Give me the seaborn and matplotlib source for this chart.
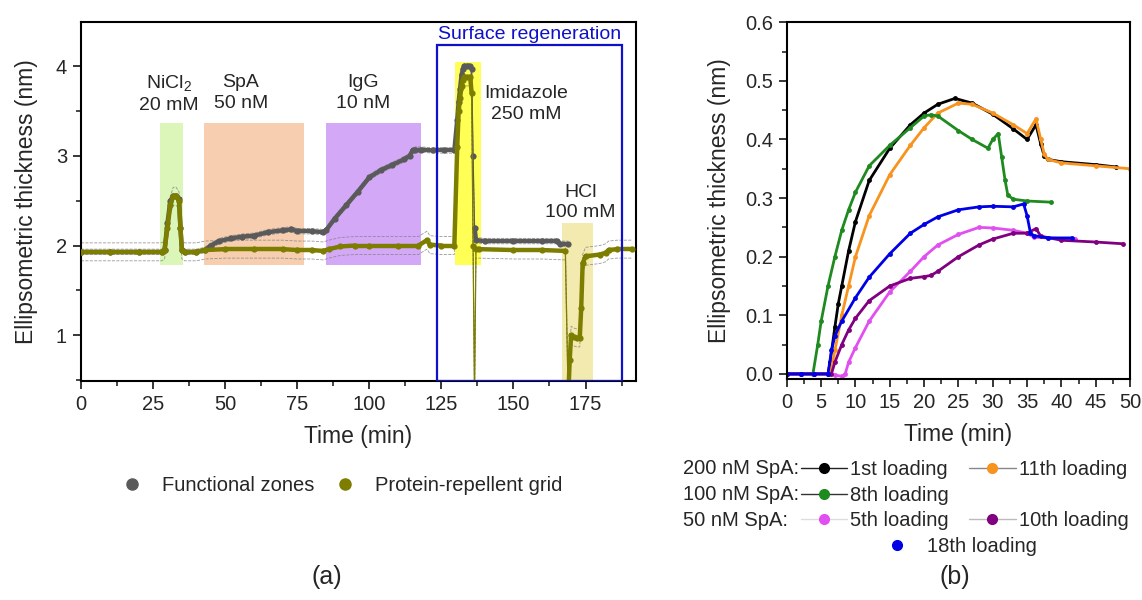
import numpy as np
import pandas as pd
import matplotlib
matplotlib.use("Agg")
import matplotlib.pyplot as plt
import seaborn as sns
from matplotlib.lines import Line2D
from matplotlib.patches import Rectangle
from matplotlib.collections import LineCollection
from matplotlib.ticker import MultipleLocator, FormatStrFormatter

# ---------------- data: panel (a) ----------------
fz_t = [0, 10, 20, 28, 29, 30, 31, 32, 33, 34, 34.5, 35, 36, 40, 43, 45, 48, 52, 56, 60,
        65, 70, 73, 75, 80, 84, 85, 88, 92, 96, 100, 104, 108, 112, 114, 115, 116, 118,
        122, 126, 129.5, 130.5, 131, 131.5, 132, 132.5, 133, 134, 135, 135.5, 136, 136.5,
        137, 140, 150, 160, 165, 166, 169]
fz_y = [1.93, 1.93, 1.93, 1.93, 1.95, 2.25, 2.5, 2.55, 2.55, 2.52, 2.2, 1.95, 1.93, 1.93,
        1.95, 2.0, 2.05, 2.08, 2.10, 2.11, 2.15, 2.17, 2.18, 2.16, 2.16, 2.15, 2.17, 2.3,
        2.45, 2.6, 2.76, 2.84, 2.9, 2.96, 3.0, 3.06, 3.07, 3.07, 3.06, 3.06, 3.06, 3.4,
        3.6, 3.75, 3.9, 3.97, 4.0, 4.0, 4.0, 3.97, 3.0, 2.2, 2.06, 2.05, 2.05, 2.05, 2.05,
        2.02, 2.02]

grid_t = [0, 10, 20, 28, 29, 30, 31, 32, 33, 34, 34.5, 35, 36, 40, 43, 50, 60, 70, 75, 80,
          84, 86, 90, 95, 100, 110, 117, 120, 121, 125, 129.5, 130.5, 131, 131.5, 132,
          132.5, 133, 134, 135, 135.5, 136, 136.5, 137, 138, 150, 160, 168, 169, 169.5,
          170, 171, 172, 173, 173.5, 174, 175, 180, 182, 183, 186, 191]
grid_y = [1.93, 1.93, 1.93, 1.93, 1.95, 2.2, 2.45, 2.55, 2.55, 2.5, 2.2, 1.95, 1.93, 1.93,
          1.95, 1.96, 1.96, 1.96, 1.95, 1.95, 1.94, 1.96, 1.99, 2.0, 2.0, 2.0, 2.0, 2.06,
          2.01, 2.0, 2.0, 3.1, 3.5, 3.65, 3.78, 3.85, 3.88, 3.88, 3.88, 3.7, 2.0, 0.3,
          1.96, 1.96, 1.95, 1.95, 1.94, 0.3, 0.72, 1.0, 0.98, 0.97, 0.97, 1.3, 1.8, 1.88,
          1.9, 1.92, 1.95, 1.96, 1.96]
fz_err = 0.03
grid_err = 0.1

zone_labels = ["NiCl$_2$\n20 mM", "SpA\n50 nM", "IgG\n10 nM", "Imidazole\n250 mM", "HCl\n100 mM"]
zone_start = [27.4, 42.6, 85.0, 129.6, 166.9]
zone_end = [35.3, 77.4, 117.8, 138.9, 177.7]
zone_bottom = [1.78, 1.78, 1.78, 1.78, 0.49]
zone_top = [3.37, 3.37, 3.37, 4.05, 2.25]
zone_colors = ["#dcf5b8", "#f7cfb0", "#d3a9f7", "#ffff55", "#f2eaae"]
zone_text_x = [30.6, 55.5, 98.0, 154.5, 173.3]
zone_text_y = [3.70, 3.70, 3.70, 3.58, 2.48]

regen_start, regen_end, regen_top = 123.6, 187.5, 4.24

# ---------------- data: panel (b) ----------------
b1_t = [0, 2, 4, 6, 6.3, 7, 7.5, 8, 9, 10, 12, 15, 18, 20, 22, 24.5, 27, 30, 33, 35, 36.3,
        37, 37.5, 38, 40, 45, 48]
b1_y = [0, 0, 0, 0, 0.02, 0.08, 0.12, 0.15, 0.21, 0.26, 0.33, 0.385, 0.425, 0.445, 0.46,
        0.47, 0.462, 0.443, 0.418, 0.40, 0.425, 0.392, 0.372, 0.366, 0.362, 0.357, 0.353]
b11_t = [0, 2, 4, 6, 6.5, 7, 8, 9, 10, 12, 15, 18, 20, 22, 25, 27, 30, 33, 35, 36.3, 37,
         37.5, 38, 40, 45, 50]
b11_y = [0, 0, 0, 0, 0.01, 0.04, 0.10, 0.15, 0.20, 0.27, 0.34, 0.39, 0.42, 0.445, 0.462,
         0.46, 0.445, 0.425, 0.41, 0.435, 0.40, 0.375, 0.366, 0.36, 0.355, 0.35]
b8_t = [0, 2, 3.8, 4.5, 5, 6, 7, 8, 9, 10, 12, 15, 18, 20, 21, 22, 25, 27, 29.3, 30, 30.8,
        31.3, 31.8, 32.2, 33, 35, 38.5]
b8_y = [0, 0, 0, 0.05, 0.09, 0.15, 0.20, 0.245, 0.28, 0.31, 0.355, 0.39, 0.42, 0.44,
        0.442, 0.44, 0.415, 0.40, 0.385, 0.40, 0.41, 0.37, 0.33, 0.305, 0.298, 0.295, 0.293]
b5_t = [0, 2, 4, 6, 7, 8, 8.5, 9, 10, 12, 15, 18, 20, 22, 25, 28, 30, 33, 35, 36, 38, 42]
b5_y = [0, 0, 0, 0, -0.002, -0.004, 0.0, 0.02, 0.045, 0.09, 0.14, 0.175, 0.20, 0.22,
        0.238, 0.25, 0.249, 0.245, 0.24, 0.233, 0.232, 0.23]
b10_t = [0, 2, 4, 6, 6.5, 7, 8, 9, 10, 12, 15, 18, 20, 21, 22, 25, 28, 30, 33, 35, 36.3,
         37, 40, 45, 49]
b10_y = [0, 0, 0, 0, 0, 0.02, 0.05, 0.075, 0.095, 0.125, 0.15, 0.163, 0.166, 0.168, 0.175,
         0.20, 0.22, 0.23, 0.24, 0.24, 0.248, 0.235, 0.228, 0.225, 0.222]
b18_t = [0, 2, 4, 6, 6.5, 7, 8, 10, 12, 15, 18, 20, 22, 25, 28, 30, 33, 34.5, 35, 35.5, 36,
         38, 41.5]
b18_y = [0, 0, 0, 0, 0.04, 0.065, 0.09, 0.13, 0.165, 0.205, 0.24, 0.255, 0.268, 0.28,
         0.285, 0.286, 0.285, 0.29, 0.27, 0.24, 0.236, 0.232, 0.232]

b_series = [
    ("1st loading", b1_t, b1_y, "#000000"),
    ("11th loading", b11_t, b11_y, "#f7931e"),
    ("8th loading", b8_t, b8_y, "#1f8a1f"),
    ("5th loading", b5_t, b5_y, "#e24ff0"),
    ("10th loading", b10_t, b10_y, "#800080"),
    ("18th loading", b18_t, b18_y, "#0000e6"),
]

# ---------------- figure ----------------
sns.set_style("ticks")
plt.rcParams["font.family"] = ["Liberation Sans", "DejaVu Sans"]
plt.rcParams["mathtext.fontset"] = "custom"
plt.rcParams["mathtext.rm"] = "Liberation Sans"
plt.rcParams["mathtext.it"] = "Liberation Sans"

fig = plt.figure(figsize=(11.42, 6.0), dpi=100)
axA = fig.add_axes([0.0709, 0.365, 0.486, 0.598])
axB = fig.add_axes([0.689, 0.368, 0.3005, 0.595])

FS_TICK = 14.5
FS_IN = 14
FS_LAB = 16.5


def thick_segments(ax, t, y, color, lw, thr, z):
    t = np.asarray(t, float)
    y = np.asarray(y, float)
    segs = [[(t[i], y[i]), (t[i + 1], y[i + 1])] for i in range(len(t) - 1)
            if abs((y[i + 1] - y[i]) / (t[i + 1] - t[i])) < thr]
    ax.add_collection(LineCollection(segs, colors=color, linewidths=lw,
                                     capstyle="round", zorder=z))


# panel (a) zones
for lab, s, e, b, t, c, tx, ty in zip(zone_labels, zone_start, zone_end, zone_bottom,
                                       zone_top, zone_colors, zone_text_x, zone_text_y):
    axA.add_patch(Rectangle((s, b), e - s, t - b, facecolor=c, edgecolor="none", zorder=0))
    axA.text(tx, ty, lab, ha="center", va="center", fontsize=FS_IN, linespacing=1.3,
             zorder=5)
axA.add_patch(Rectangle((regen_start, 0.49), regen_end - regen_start, regen_top - 0.49,
                        facecolor="none", edgecolor="#1010c8", lw=1.6, zorder=6))
axA.text((regen_start + regen_end) / 2, regen_top + 0.02, "Surface regeneration",
         color="#1010c8", ha="center", va="bottom", fontsize=FS_IN)

dfA_fz = pd.DataFrame({"t": fz_t, "y": fz_y})
dfA_gr = pd.DataFrame({"t": grid_t, "y": grid_y})
for df, err in [(dfA_fz, fz_err), (dfA_gr, grid_err)]:
    for sgn in (1, -1):
        axA.plot(df["t"], df["y"] + sgn * err, ls="--", lw=0.6, color="#808080",
                 alpha=0.8, zorder=2)

sns.lineplot(data=dfA_fz, x="t", y="y", ax=axA, color="#5a5a5a", lw=0.9, marker="o",
             markersize=4.5, markeredgewidth=0, sort=False, zorder=3)
thick_segments(axA, fz_t, fz_y, "#5a5a5a", 3.2, 1.5, 3)
sns.lineplot(data=dfA_gr, x="t", y="y", ax=axA, color="#7d7d00", lw=0.9, marker="o",
             markersize=4.5, markeredgewidth=0, sort=False, zorder=4)
thick_segments(axA, grid_t, grid_y, "#7d7d00", 3.2, 1.5, 4)

axA.set_xlim(0, 192.5)
axA.set_ylim(0.49, 4.49)
axA.xaxis.set_major_locator(MultipleLocator(25))
axA.xaxis.set_minor_locator(MultipleLocator(12.5))
axA.yaxis.set_major_locator(MultipleLocator(1))
axA.yaxis.set_minor_locator(MultipleLocator(0.5))
axA.set_xlabel("Time (min)", fontsize=FS_LAB, labelpad=8)
axA.set_ylabel("Ellipsometric thickness (nm)", fontsize=FS_LAB, labelpad=13)

# panel (b)
for lab, t, y, c in b_series:
    df = pd.DataFrame({"t": t, "y": y})
    sns.lineplot(data=df, x="t", y="y", ax=axB, color=c, lw=2.0, marker="o",
                 markersize=3.5, markeredgewidth=0, sort=False)
axB.set_xlim(0, 50)
axB.set_ylim(-0.009, 0.6)
axB.xaxis.set_major_locator(MultipleLocator(5))
axB.xaxis.set_minor_locator(MultipleLocator(2.5))
axB.yaxis.set_major_locator(MultipleLocator(0.1))
axB.yaxis.set_minor_locator(MultipleLocator(0.05))
axB.yaxis.set_major_formatter(FormatStrFormatter("%.1f"))
axB.set_xlabel("Time (min)", fontsize=FS_LAB, labelpad=8)
axB.set_ylabel("Ellipsometric thickness (nm)", fontsize=FS_LAB, labelpad=10)

for ax in (axA, axB):
    for sp in ax.spines.values():
        sp.set_visible(True)
        sp.set_linewidth(1.5)
        sp.set_color("black")
    ax.tick_params(which="major", direction="out", length=6, width=1.3,
                   labelsize=FS_TICK, top=False, right=False, pad=4)
    ax.tick_params(which="minor", direction="out", length=3.5, width=1.2,
                   top=False, right=False)

# legend (a)
hA = [Line2D([], [], ls="none", marker="o", color="#5a5a5a", markersize=8),
      Line2D([], [], ls="none", marker="o", color="#7d7d00", markersize=8)]
fig.legend(hA, ["Functional zones", "Protein-repellent grid"], ncol=2, frameon=False,
           loc="upper left", bbox_to_anchor=(122 / 1142, 1 - 476 / 600),
           borderpad=0, borderaxespad=0, handlelength=1.0, handletextpad=1.0,
           columnspacing=1.0, fontsize=FS_TICK)

# legend (b)
for txt, yy in [("200 nM SpA:", 468), ("100 nM SpA:", 494), ("50 nM SpA:", 520)]:
    fig.text(683 / 1142, 1 - yy / 600, txt, ha="left", va="center", fontsize=FS_TICK)


def hnd(line_c, dot_c, lw=1.0):
    return Line2D([], [], color=line_c, lw=lw, marker="o", markerfacecolor=dot_c,
                  markeredgecolor=dot_c, markersize=7)


blank = Line2D([], [], ls="none")
hB = [hnd("#222222", "#000000"), hnd("#333333", "#1f8a1f"), hnd("#dddddd", "#e24ff0"),
      hnd("#888888", "#f7931e"), blank, hnd("#bbbbbb", "#800080")]
lB = ["1st loading", "8th loading", "5th loading", "11th loading", "", "10th loading"]
fig.legend(hB, lB, ncol=2, frameon=False, loc="upper left",
           bbox_to_anchor=(801 / 1142, 1 - 460 / 600), borderpad=0, borderaxespad=0,
           handlelength=2.3, handletextpad=0.15, columnspacing=1.0, labelspacing=0.33,
           fontsize=FS_TICK)
fig.legend([Line2D([], [], ls="none", marker="o", color="#0000e6", markersize=7)],
           ["18th loading"], frameon=False, loc="upper left",
           bbox_to_anchor=(873.5 / 1142, 1 - 537 / 600), borderpad=0, borderaxespad=0,
           handlelength=2.34, handletextpad=0.32, fontsize=FS_TICK)

fig.text(327 / 1142, 1 - 577 / 600, "(a)", ha="center", va="center", fontsize=18)
fig.text(955 / 1142, 1 - 577 / 600, "(b)", ha="center", va="center", fontsize=18)

fig.savefig("out.png", dpi=100)
